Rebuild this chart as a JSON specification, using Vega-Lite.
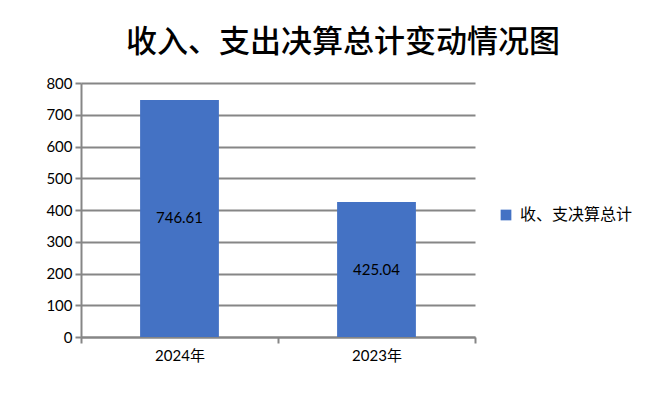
{
  "$schema": "https://vega.github.io/schema/vega-lite/v6.json",
  "width": 394,
  "height": 254,
  "autosize": {"type": "none"},
  "padding": {"left": 81, "top": 83, "right": 193, "bottom": 59},
  "background": "white",
  "config": {"view": {"stroke": null}},
  "title": {
    "text": "收入、支出决算总计变动情况图",
    "font": "Noto Sans CJK SC",
    "fontSize": 31,
    "fontWeight": 500,
    "color": "#000000",
    "anchor": "middle",
    "dx": 65,
    "offset": 17
  },
  "data": {
    "values": [
      {"year": "2024年", "value": 746.61, "series": "收、支决算总计"},
      {"year": "2023年", "value": 425.04, "series": "收、支决算总计"}
    ]
  },
  "encoding": {
    "x": {
      "field": "year",
      "type": "nominal",
      "sort": null,
      "scale": {"paddingInner": 0, "paddingOuter": 0},
      "axis": {
        "title": null,
        "labelAngle": 0,
        "tickBand": "extent",
        "domainColor": "#868686",
        "domainWidth": 2,
        "tickColor": "#868686",
        "tickWidth": 2,
        "tickSize": 6,
        "labelFont": "Lato, Noto Sans CJK SC",
        "labelFontSize": 15,
        "labelColor": "#000000",
        "labelPadding": 5
      }
    }
  },
  "layer": [
    {
      "mark": {"type": "bar", "width": {"band": 0.4}, "color": "#4472C4"},
      "encoding": {
        "y": {
          "field": "value",
          "type": "quantitative",
          "scale": {"domain": [0, 800], "nice": false},
          "axis": {
            "title": null,
            "values": [0, 100, 200, 300, 400, 500, 600, 700, 800],
            "labelOverlap": false,
            "grid": true,
            "gridColor": "#868686",
            "gridWidth": 2,
            "domainColor": "#868686",
            "domainWidth": 2,
            "tickColor": "#868686",
            "tickWidth": 2,
            "tickSize": 6,
            "labelFont": "Lato",
            "labelFontSize": 15,
            "labelColor": "#000000",
            "labelPadding": 3
          }
        },
        "color": {
          "field": "series",
          "type": "nominal",
          "scale": {"range": ["#4472C4"]},
          "legend": {
            "title": null,
            "orient": "none",
            "legendX": 417,
            "legendY": 124,
            "symbolType": "square",
            "symbolSize": 115,
            "symbolStrokeWidth": 0,
            "labelFont": "Noto Sans CJK SC",
            "labelFontSize": 16,
            "labelColor": "#000000",
            "labelOffset": 6
          }
        }
      }
    },
    {
      "transform": [{"calculate": "datum.value / 2", "as": "mid"}],
      "mark": {"type": "text", "font": "Lato", "fontSize": 15, "color": "#000000"},
      "encoding": {
        "y": {
          "field": "mid",
          "type": "quantitative",
          "axis": {
            "title": null,
            "values": [0, 100, 200, 300, 400, 500, 600, 700, 800],
            "labelOverlap": false,
            "grid": true,
            "gridColor": "#868686",
            "gridWidth": 2,
            "domainColor": "#868686",
            "domainWidth": 2,
            "tickColor": "#868686",
            "tickWidth": 2,
            "tickSize": 6,
            "labelFont": "Lato",
            "labelFontSize": 15,
            "labelColor": "#000000",
            "labelPadding": 3
          }
        },
        "text": {"field": "value", "type": "quantitative", "format": ".2f"}
      }
    }
  ]
}
